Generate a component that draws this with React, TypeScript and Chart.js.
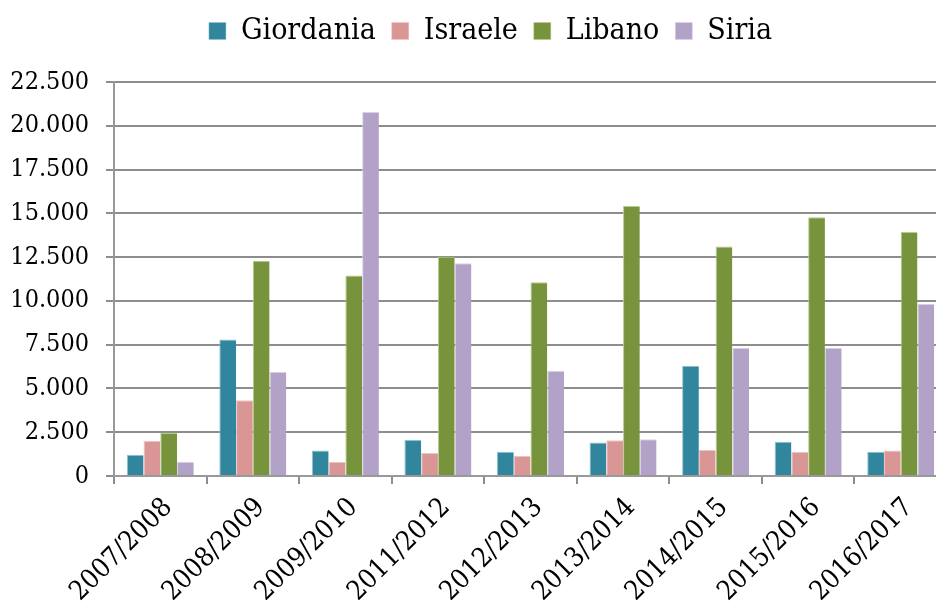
import React, { useEffect, useRef } from "react";
import { Chart, registerables } from "chart.js";

Chart.register(...registerables);

const categories = [
  "2007/2008",
  "2008/2009",
  "2009/2010",
  "2011/2012",
  "2012/2013",
  "2013/2014",
  "2014/2015",
  "2015/2016",
  "2016/2017",
];
const giordania = [1220, 7790, 1450, 2060, 1390, 1910, 6300, 1960, 1380];
const israele = [2020, 4330, 800, 1320, 1160, 2040, 1490, 1390, 1450];
const libano = [2460, 12290, 11450, 12520, 11070, 15420, 13110, 14770, 13930];
const siria = [820, 5950, 20780, 12150, 6010, 2100, 7330, 7330, 9830];
const seriesNames = ["Giordania", "Israele", "Libano", "Siria"];
const yTicksMax = 22500;
const yTicksStep = 2500;

const FONT = "'DejaVu Serif Condensed', 'DejaVu Serif', serif";

function fmt(v: number): string {
  return String(Math.round(v)).replace(/\B(?=(\d{3})+(?!\d))/g, ".");
}

const legendShift = {
  id: "legendShift",
  afterLayout(chart: any) {
    const lg = chart.legend;
    if (!lg) return;
    const target = 490.5;
    const cur = (lg.left + lg.right) / 2;
    const d = target - cur;
    lg.left += d;
    lg.right += d;
  },
};

export default function App() {
  const ref = useRef<HTMLCanvasElement | null>(null);
  useEffect(() => {
    if (!ref.current) return;
    const colors = ["#31859C", "#D99694", "#77933C", "#B3A2C7"];
    const borders = ["#8cc3d2", "#eec3c2", "#b5cc8a", "#dcd2e8"];
    const values = [giordania, israele, libano, siria];
    const chart = new Chart(ref.current, {
      type: "bar",
      data: {
        labels: categories,
        datasets: seriesNames.map((n, i) => ({
          label: n,
          data: values[i],
          backgroundColor: colors[i],
          borderColor: borders[i],
          borderWidth: { top: 1, left: 1, right: 0, bottom: 0 },
          categoryPercentage: 0.724,
          barPercentage: 1.0,
        })),
      },
      plugins: [legendShift],
      options: {
        responsive: false,
        animation: false,
        layout: { padding: { left: 0, right: 3, top: 0, bottom: 0 } },
        plugins: {
          tooltip: { enabled: false },
          legend: {
            position: "top",
            labels: {
              font: { family: FONT, size: 30 },
              color: "#000",
              boxWidth: 17,
              boxHeight: 17,
              padding: 16,
            },
          },
          title: {
            display: true,
            text: "",
            position: "top",
            weight: 500,
            font: { size: 1, lineHeight: 1 },
            padding: { top: 25, bottom: 0 },
          },
        },
        scales: {
          x: {
            grid: {
              drawOnChartArea: false,
              drawTicks: true,
              tickLength: 8,
              color: "#8d8d8d",
              lineWidth: 2,
            },
            border: { color: "#999999", width: 2 },
            ticks: {
              font: { family: FONT, size: 27 },
              color: "#000",
              minRotation: 45,
              maxRotation: 45,
              padding: 8,
              labelOffset: 8,
            },
            afterFit: (s: any) => {
              s.height = 128;
            },
          },
          y: {
            min: 0,
            max: yTicksMax,
            grid: {
              color: "#8d8d8d",
              lineWidth: 2,
              tickLength: 8,
            },
            border: { color: "#999999", width: 2 },
            ticks: {
              stepSize: yTicksStep,
              font: { family: FONT, size: 25 },
              color: "#000",
              padding: 17,
              callback: (v: any) => fmt(Number(v)),
            },
            afterFit: (s: any) => {
              s.width = 114;
            },
          },
        },
      },
    });
    return () => chart.destroy();
  }, []);
  return (
    <div
      style={{
        position: "absolute",
        left: 0,
        top: 0,
        width: 936,
        height: 604,
        overflow: "hidden",
        background: "#fff",
      }}
    >
      <canvas ref={ref} width={950} height={604} style={{ display: "block" }} />
    </div>
  );
}
